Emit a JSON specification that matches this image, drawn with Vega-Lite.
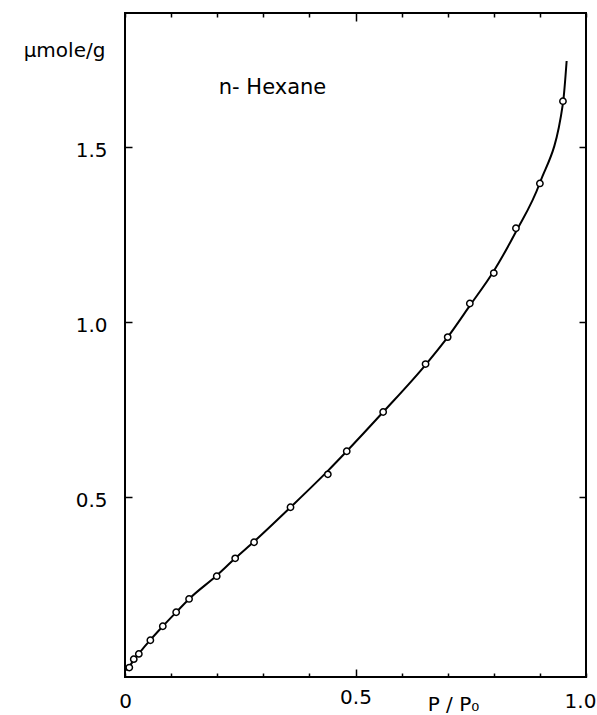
{
  "$schema": "https://vega.github.io/schema/vega-lite/v6.json",
  "width": 461,
  "height": 664,
  "autosize": {"type": "none"},
  "padding": {"left": 125, "top": 13, "right": 11, "bottom": 38},
  "background": "white",
  "config": {
    "view": {"stroke": "black", "strokeWidth": 2},
    "font": "DejaVu Sans"
  },
  "datasets": {
    "obs": [
      {"p": 0.0093, "u": 0.013},
      {"p": 0.019, "u": 0.037},
      {"p": 0.030, "u": 0.052},
      {"p": 0.055, "u": 0.091},
      {"p": 0.082, "u": 0.131},
      {"p": 0.111, "u": 0.171},
      {"p": 0.139, "u": 0.209},
      {"p": 0.199, "u": 0.274},
      {"p": 0.239, "u": 0.325},
      {"p": 0.280, "u": 0.371},
      {"p": 0.359, "u": 0.471},
      {"p": 0.440, "u": 0.565},
      {"p": 0.481, "u": 0.631},
      {"p": 0.560, "u": 0.743},
      {"p": 0.652, "u": 0.880},
      {"p": 0.700, "u": 0.957},
      {"p": 0.748, "u": 1.053},
      {"p": 0.800, "u": 1.140},
      {"p": 0.848, "u": 1.268},
      {"p": 0.900, "u": 1.396},
      {"p": 0.950, "u": 1.631}
    ],
    "curve": [
      {"p": 0.003, "u": 0.004},
      {"p": 0.0093, "u": 0.015},
      {"p": 0.019, "u": 0.035},
      {"p": 0.030, "u": 0.053},
      {"p": 0.055, "u": 0.092},
      {"p": 0.082, "u": 0.131},
      {"p": 0.111, "u": 0.171},
      {"p": 0.139, "u": 0.209},
      {"p": 0.199, "u": 0.276},
      {"p": 0.239, "u": 0.325},
      {"p": 0.280, "u": 0.373},
      {"p": 0.359, "u": 0.471},
      {"p": 0.440, "u": 0.575},
      {"p": 0.481, "u": 0.631},
      {"p": 0.560, "u": 0.743},
      {"p": 0.652, "u": 0.878},
      {"p": 0.700, "u": 0.957},
      {"p": 0.748, "u": 1.047},
      {"p": 0.800, "u": 1.146},
      {"p": 0.848, "u": 1.258},
      {"p": 0.900, "u": 1.398},
      {"p": 0.950, "u": 1.625},
      {"p": 0.958, "u": 1.746}
    ],
    "label": [
      {"p": 0.32, "u": 1.669, "t": "n- Hexane"}
    ]
  },
  "layer": [
    {
      "data": {"name": "curve"},
      "mark": {"type": "line", "color": "black", "strokeWidth": 2, "interpolate": "monotone"},
      "encoding": {
        "x": {
          "field": "p", "type": "quantitative",
          "scale": {"domain": [0, 1], "nice": false, "zero": false},
          "axis": {
            "orient": "bottom",
            "values": [0, 0.1, 0.2, 0.3, 0.4, 0.5, 0.6, 0.7, 0.8, 0.9, 1.0],
            "labelExpr": "datum.value == 0 ? '0' : (datum.value == 0.5 ? '0.5' : (datum.value == 1 ? '1.0' : ''))",
            "domain": false, "grid": false,
            "tickColor": "black", "tickWidth": 1.5,
            "tickSize": {"condition": {"test": "datum.value == 0.5", "value": -8}, "value": -4},
            "labelFontSize": 20, "labelColor": "black", "labelPadding": 18,
            "labelOffset": {"condition": {"test": "datum.value == 1", "value": -6}, "value": 0},
            "labelFlush": false, "labelOverlap": false, "labelBound": false,
            "title": "P / P\u2080",
            "titleFontSize": 20, "titleFontWeight": "normal", "titleColor": "black",
            "titleX": 328, "titleY": 27, "titleBaseline": "middle", "titleAlign": "center"
          }
        },
        "y": {
          "field": "u", "type": "quantitative",
          "scale": {"domain": [-0.014, 1.883], "nice": false, "zero": false},
          "axis": {
            "orient": "left",
            "values": [0.5, 1.0, 1.5],
            "format": ".1f",
            "domain": false, "grid": false,
            "tickColor": "black", "tickWidth": 1.5, "tickSize": -7,
            "labelFontSize": 20, "labelColor": "black", "labelPadding": 25, "labelOffset": 3,
            "title": "\u03bcmole/g",
            "titleAngle": 0, "titleFontSize": 20, "titleFontWeight": "normal", "titleColor": "black",
            "titleX": -61, "titleY": 37, "titleAlign": "center", "titleBaseline": "middle"
          }
        }
      }
    },
    {
      "data": {"name": "obs"},
      "mark": {"type": "point", "shape": "circle", "filled": false, "fill": "white", "stroke": "black", "strokeWidth": 1.5, "size": 40, "opacity": 1},
      "encoding": {
        "x": {
          "field": "p", "type": "quantitative",
          "axis": {
            "orient": "top",
            "values": [0, 0.1, 0.2, 0.3, 0.4, 0.5, 0.6, 0.7, 0.8, 0.9, 1.0],
            "labels": false, "domain": false, "grid": false, "title": null,
            "tickColor": "black", "tickWidth": 1.5,
            "tickSize": {"condition": {"test": "datum.value == 0.5", "value": -8}, "value": -4}
          }
        },
        "y": {
          "field": "u", "type": "quantitative",
          "axis": {
            "orient": "right",
            "values": [0.5, 1.0, 1.5],
            "labels": false, "domain": false, "grid": false, "title": null,
            "tickColor": "black", "tickWidth": 1.5, "tickSize": -7
          }
        }
      }
    },
    {
      "data": {"name": "label"},
      "mark": {"type": "text", "fontSize": 21, "color": "black", "align": "center", "baseline": "middle"},
      "encoding": {
        "x": {"field": "p", "type": "quantitative", "axis": null},
        "y": {"field": "u", "type": "quantitative", "axis": null},
        "text": {"field": "t"}
      }
    }
  ],
  "resolve": {"axis": {"x": "independent", "y": "independent"}}
}
